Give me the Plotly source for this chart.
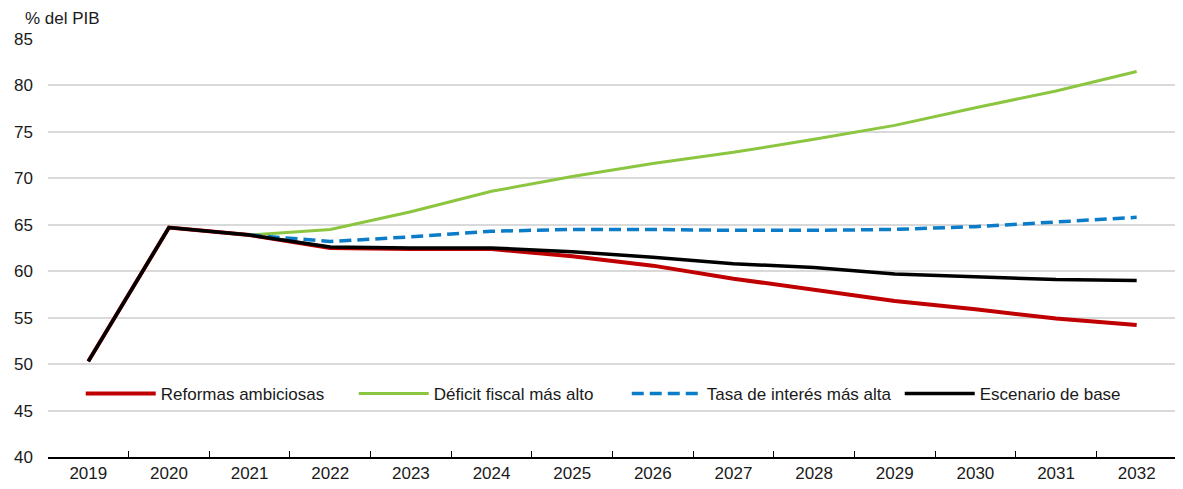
import plotly.graph_objects as go

years = [str(y) for y in range(2019, 2033)]
reformas = [50.3, 64.7, 63.9, 62.5, 62.4, 62.4, 61.6, 60.6, 59.2, 58.0, 56.8, 55.9, 54.9, 54.2]
deficit = [None, None, 63.9, 64.5, 66.4, 68.6, 70.2, 71.6, 72.8, 74.2, 75.7, 77.6, 79.4, 81.5]
tasa = [None, None, 63.9, 63.2, 63.7, 64.3, 64.5, 64.5, 64.4, 64.4, 64.5, 64.8, 65.3, 65.8]
base = [50.3, 64.7, 63.9, 62.6, 62.5, 62.5, 62.1, 61.5, 60.8, 60.4, 59.7, 59.4, 59.1, 59.0]
y_ticks = list(range(40, 90, 5))

fig = go.Figure()
fig.add_trace(go.Scatter(x=years, y=reformas, name="Reformas ambiciosas", mode="lines",
                         line=dict(color="#C00000", width=4)))
fig.add_trace(go.Scatter(x=years, y=deficit, name="Déficit fiscal más alto", mode="lines",
                         line=dict(color="#8CC641", width=3)))
fig.add_trace(go.Scatter(x=years, y=tasa, name="Tasa de interés más alta", mode="lines",
                         line=dict(color="#0A7CC8", width=3.5, dash="12px,6px")))
fig.add_trace(go.Scatter(x=years, y=base, name="Escenario de base", mode="lines",
                         line=dict(color="#000000", width=3.5)))

fig.update_layout(
    width=1175, height=481,
    margin=dict(l=40, r=6, t=31, b=28),
    plot_bgcolor="white", paper_bgcolor="white",
    font=dict(family="Liberation Sans, Arial, sans-serif", size=17, color="#1a1a1a"),
    showlegend=True,
    legend=dict(orientation="h", x=0.029, y=0.151, xanchor="left", yanchor="middle",
                bgcolor="rgba(255,255,255,0)", font=dict(size=17), itemwidth=70,
                entrywidth=188, entrywidthmode="pixels",
                traceorder="normal"),
    xaxis=dict(type="category", range=[-0.5, 13.5], showgrid=False,
               showline=True, linecolor="#000000", linewidth=1.5,
               ticks="inside", tickson="boundaries", ticklen=6, tickcolor="#000000",
               tickfont=dict(size=17)),
    yaxis=dict(range=[40, 85], tickvals=y_ticks, showgrid=True, gridcolor="#D9D9D9",
               gridwidth=1.5, zeroline=False, showline=False, ticks="",
               ticklabelstandoff=14, tickfont=dict(size=17)),
    annotations=[dict(text="% del PIB", xref="paper", yref="paper", x=-0.022, y=1.05,
                      xanchor="left", yanchor="middle", showarrow=False,
                      font=dict(size=17))],
)
fig.write_html("out.html")
